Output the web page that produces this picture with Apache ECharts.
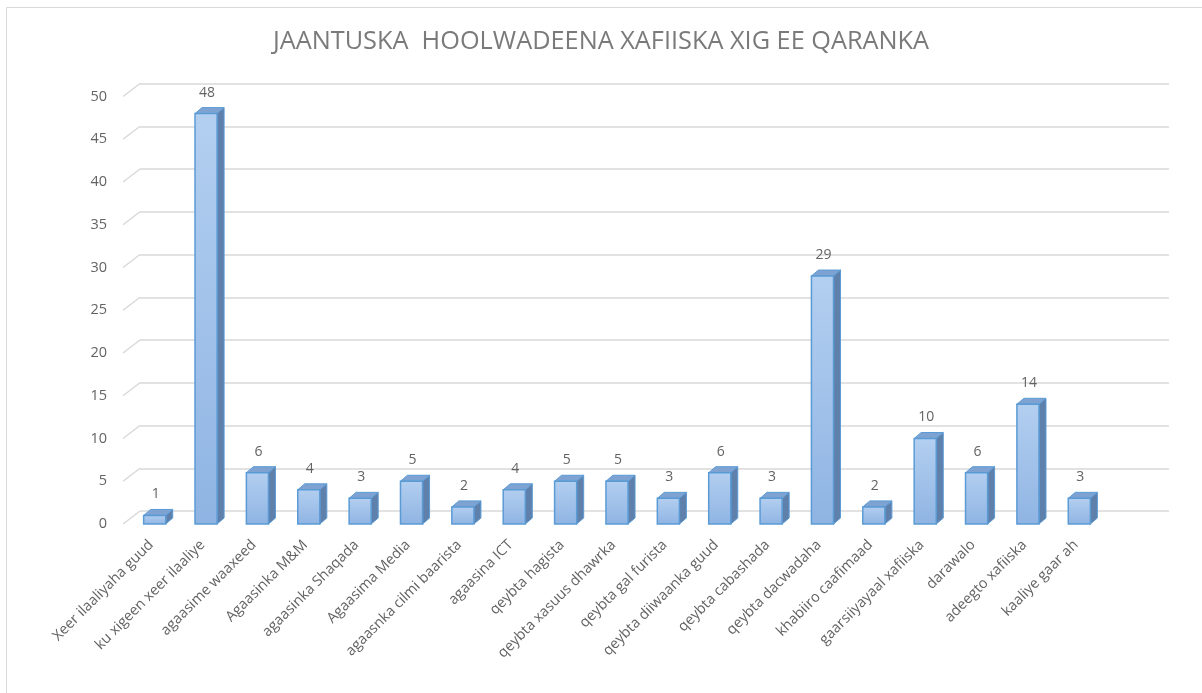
<!DOCTYPE html>
<html>
<head>
<meta charset="utf-8">
<script src="https://cdn.jsdelivr.net/npm/echarts@6/dist/echarts.min.js"></script>
<style>html,body{margin:0;padding:0;background:#fff}#c{width:1202px;height:693px}</style>
</head>
<body>
<div id="c"></div>
<script>
const titleText = 'JAANTUSKA  HOOLWADEENA XAFIISKA XIG EE QARANKA';
const categories = ['Xeer ilaaliyaha guud','ku xigeen xeer ilaaliye','agaasime waaxeed','Agaasinka M&M','agaasinka Shaqada','Agaasima Media','agaasnka cilmi baarista','agaasina ICT','qeybta hagista','qeybta xasuus dhawrka','qeybta gal furista','qeybta diiwaanka guud','qeybta cabashada','qeybta dacwadaha','khabiiro caafimaad','gaarsiiyayaal xafiiska','darawalo','adeegto xafiiska','kaaliye gaar ah'];
const values = [1,48,6,4,3,5,2,4,5,5,3,6,3,29,2,10,6,14,3];
const yTicks = [0,5,10,15,20,25,30,35,40,45,50];

const DX = 7, DY = -6;          // bar depth
const WX = 17, WY = -13;        // back-wall offset

const chart = echarts.init(document.getElementById('c'));
chart.setOption({
  backgroundColor: '#fff',
  animation: false,
  title: {
    text: titleText, left: 'center', top: 24,
    textStyle: {fontFamily: 'Open Sans', fontSize: 25.3, fontWeight: 'normal', color: '#7a7a7a'}
  },
  graphic: [{
    type: 'rect', silent: true, z: -10,
    shape: {x: 6.5, y: 7.5, width: 1300, height: 800},
    style: {fill: 'none', stroke: '#d9d9d9', lineWidth: 1}
  }],
  grid: [
    {left: 129, right: 97, top: 96.5, bottom: 169},
    {left: 140, right: 33, top: 96.5 + WY, bottom: 169 - WY}
  ],
  xAxis: [
    {type: 'category', gridIndex: 0, data: categories,
     axisLine: {show: false}, axisTick: {show: false},
     axisLabel: {interval: 0, rotate: 45, margin: 15, padding: [0, 5, 0, 0],
                 fontFamily: 'Open Sans', fontSize: 14.5, color: '#636363'}},
    {type: 'value', gridIndex: 1, min: 0, max: 1, show: false}
  ],
  yAxis: [
    {type: 'value', gridIndex: 0, min: 0, max: 50, interval: 5,
     axisLine: {show: false}, axisTick: {show: false}, splitLine: {show: false},
     axisLabel: {margin: 22, fontFamily: 'Open Sans', fontSize: 14.5, color: '#636363'}},
    {type: 'value', gridIndex: 1, min: 0, max: 50, interval: 5,
     axisLine: {show: false}, axisTick: {show: false}, axisLabel: {show: false},
     splitLine: {show: true, lineStyle: {color: '#d9d9d9', width: 1.5}}}
  ],
  series: [
    {
      type: 'custom', xAxisIndex: 1, yAxisIndex: 1, z: 1,
      data: yTicks.map(v => [0, v]),
      renderItem: function (params, api) {
        const p = api.coord([0, api.value(1)]);
        return {type: 'line', shape: {x1: p[0] - WX, y1: p[1] - WY, x2: p[0], y2: p[1]},
                style: {stroke: '#d9d9d9', lineWidth: 1.5}};
      }
    },
    {
      type: 'custom', xAxisIndex: 0, yAxisIndex: 0, z: 5,
      data: values.map((v, i) => [i, v]),
      renderItem: function (params, api) {
        const i = api.value(0), v = api.value(1);
        const base = api.coord([i, 0]);
        const top = api.coord([i, v]);
        const w = api.size([1, 0])[0] * 0.43;
        const x = base[0] - w / 2, yt = top[1], yb = base[1];
        return {type: 'group', children: [
          {type: 'polygon', shape: {points: [[x + w, yt], [x + w + DX, yt + DY], [x + w + DX, yb + DY], [x + w, yb]]},
           style: {fill: '#5f80aa', stroke: '#5b9bd5', lineWidth: 1}},
          {type: 'polygon', shape: {points: [[x, yt], [x + w, yt], [x + w + DX, yt + DY], [x + DX, yt + DY]]},
           style: {fill: '#7ea3d2', stroke: '#5b9bd5', lineWidth: 1}},
          {type: 'rect', shape: {x: x, y: yt, width: w, height: yb - yt},
           style: {fill: new echarts.graphic.LinearGradient(0, 0, 0, 1, [{offset: 0, color: '#b3cff0'}, {offset: 1, color: '#8fb4e3'}]),
                   stroke: '#5b9bd5', lineWidth: 1.5}},
          {type: 'text', style: {text: String(v), x: base[0] + 1, y: yt + DY - 8,
            align: 'center', verticalAlign: 'bottom',
            font: '14px "Open Sans"', fill: '#636363'}}
        ]};
      }
    }
  ]
});
</script>
</body>
</html>
